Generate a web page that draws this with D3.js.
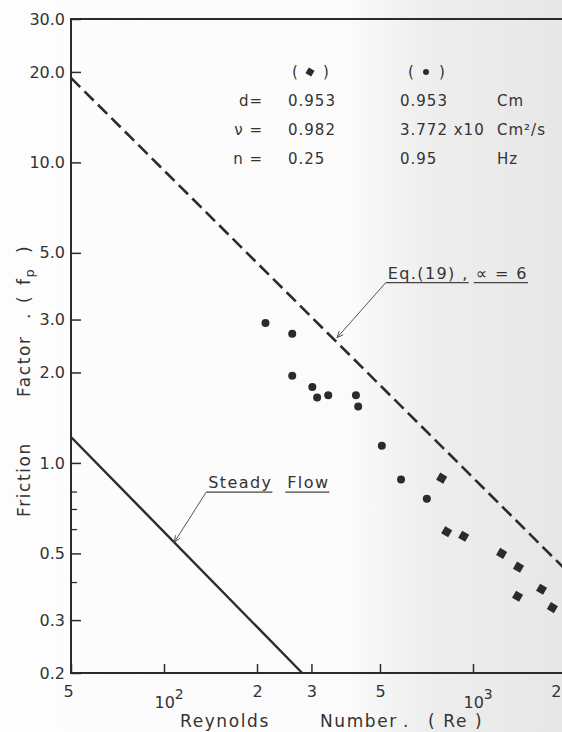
<!DOCTYPE html>
<html>
<head>
<meta charset="utf-8">
<script src="https://cdn.jsdelivr.net/npm/d3@7"></script>
<style>
  body { margin: 0; background: #fff; }
  svg { display: block; }
  text { font-family: "DejaVu Sans", sans-serif; fill: #333; }
</style>
</head>
<body>
<svg id="chart" width="562" height="732"></svg>
<script>
// Reynolds number vs friction factor
const xTicks = [50, 100, 200, 300, 500, 1000, 2000];
const xTickLabels = ["5", "10^2", "2", "3", "5", "10^3", "2"];
const yTicks = [0.2, 0.3, 0.5, 1, 2, 3, 5, 10, 20, 30];
const yTickLabels = ["0.2", "0.3", "0.5", "1.0", "2.0", "3.0", "5.0", "10.0", "20.0", "30.0"];
const yMinorTicks = [0.4, 0.6, 0.7, 0.8];

// series (●) : Re, fp
const circlePts = [
  [213, 2.92], [260, 2.69], [260, 1.95], [302, 1.79], [313, 1.65],
  [340, 1.68], [418, 1.68], [425, 1.54], [507, 1.14], [585, 0.88], [709, 0.76]
];
// series (◆)
const diamondPts = [
  [792, 0.89], [822, 0.59], [933, 0.57], [1238, 0.50], [1404, 0.45],
  [1667, 0.38], [1394, 0.36], [1807, 0.33]
];
// Eq.(19), alpha = 6 (dashed) and steady flow (solid)
const eq19Line = [[50, 19.1], [2000, 0.44]];
const steadyLine = [[50, 1.22], [280, 0.2]];

const legendRows = [
  ["d=", "0.953", "0.953", "Cm"],
  ["ν =", "0.982", "3.772 x10", "Cm²/s"],
  ["n =", "0.25", "0.95", "Hz"]
];

const width = 562, height = 732;
const margin = { top: 19, right: -4, bottom: 59, left: 71 };

const svg = d3.select("#chart");

const x = d3.scaleLog()
  .domain([50, 2000])
  .range([margin.left, width - margin.right]);

const y = d3.scaleLog()
  .domain([0.2, 30])
  .range([height - margin.bottom, margin.top]);

// scanned paper tint
const defs = svg.append("defs");
const grad = defs.append("linearGradient").attr("id", "paper");
grad.append("stop").attr("offset", "0%").attr("stop-color", "#fdfdfd");
grad.append("stop").attr("offset", "62%").attr("stop-color", "#fbfbfb");
grad.append("stop").attr("offset", "76%").attr("stop-color", "#eeeeee");
grad.append("stop").attr("offset", "100%").attr("stop-color", "#e7e7e7");
svg.append("rect").attr("width", width).attr("height", height).attr("fill", "url(#paper)");

const ink = "#2b2b2b";

// frame
svg.append("rect")
  .attr("x", x(50)).attr("y", y(30))
  .attr("width", x(2000) - x(50)).attr("height", y(0.2) - y(30))
  .attr("fill", "none").attr("stroke", ink).attr("stroke-width", 2);

// bottom axis
const xAxis = svg.append("g")
  .attr("transform", `translate(0,${y(0.2)})`)
  .call(d3.axisBottom(x).tickValues(xTicks).tickSizeInner(-9).tickSizeOuter(0).tickFormat(() => ""));
xAxis.select(".domain").remove();
xAxis.selectAll("line").attr("stroke", ink).attr("stroke-width", 1.5);
xAxis.selectAll(".tick text").remove();
xAxis.selectAll(".tick").each(function(d, i) {
  const lab = xTickLabels[i];
  const t = d3.select(this).append("text")
    .attr("text-anchor", lab.includes("^") ? "start" : "middle")
    .style("font-size", "16px");
  if (lab.includes("^")) {
    const [base, pw] = lab.split("^");
    t.attr("x", -10).attr("y", 35);
    t.append("tspan").text(base);
    t.append("tspan").attr("dy", -9).style("font-size", "14px").text(pw);
  } else if (i === xTicks.length - 1) {
    t.attr("text-anchor", "end").attr("x", -5).attr("y", 24).text(lab);
  } else {
    t.attr("x", i === 0 ? -3 : 0).attr("y", 24).text(lab);
  }
});

// left axis
const yAxis = svg.append("g")
  .attr("transform", `translate(${x(50)},0)`)
  .call(d3.axisLeft(y).tickValues(yTicks).tickSizeInner(-10).tickSizeOuter(0)
    .tickFormat((d, i) => yTickLabels[i]));
yAxis.select(".domain").remove();
yAxis.selectAll("line").attr("stroke", ink).attr("stroke-width", 1.5);
yAxis.selectAll("text")
  .attr("x", -6)
  .style("font-size", "16px")
  .style("font-family", "DejaVu Sans, sans-serif")
  .attr("fill", "#333");

svg.append("g")
  .selectAll("line")
  .data(yMinorTicks)
  .join("line")
  .attr("x1", x(50)).attr("x2", x(50) + 6)
  .attr("y1", d => y(d)).attr("y2", d => y(d))
  .attr("stroke", ink).attr("stroke-width", 1.3);

// lines
const line = d3.line().x(d => x(d[0])).y(d => y(d[1]));

const plot = svg.append("g");

plot.append("path")
  .datum(eq19Line)
  .attr("d", line)
  .attr("fill", "none")
  .attr("stroke", ink)
  .attr("stroke-width", 2.6)
  .attr("stroke-dasharray", "13,6");

plot.append("path")
  .datum(steadyLine)
  .attr("d", line)
  .attr("fill", "none")
  .attr("stroke", ink)
  .attr("stroke-width", 2.4);

// points
plot.selectAll(".circ")
  .data(circlePts)
  .join("circle")
  .attr("class", "circ")
  .attr("cx", d => x(d[0]))
  .attr("cy", d => y(d[1]))
  .attr("r", 4)
  .attr("fill", ink);

const diamond = d3.symbol().type(d3.symbolSquare).size(66);
plot.selectAll(".diam")
  .data(diamondPts)
  .join("path")
  .attr("class", "diam")
  .attr("transform", d => `translate(${x(d[0])},${y(d[1])}) rotate(30)`)
  .attr("d", diamond)
  .attr("fill", ink);

// annotations with leaders; words are placed and underlined one by one
const notes = [
  { words: [["Eq.(19) ,", 0], ["∝ = 6", 88]], at: [363, 2.61], label: [522, 3.98] },
  { words: [["Steady", 0], ["Flow", 79]], at: [108, 0.545], label: [137, 0.80] }
];
notes.forEach(n => {
  const lx = x(n.label[0]), ly = y(n.label[1]);
  const ax = x(n.at[0]), ay = y(n.at[1]);
  svg.append("line")
    .attr("x1", lx).attr("y1", ly).attr("x2", ax).attr("y2", ay)
    .attr("stroke", "#555").attr("stroke-width", 1);
  const ang = Math.atan2(ay - ly, ax - lx);
  const hl = 7;
  svg.append("path")
    .attr("d", `M${ax - hl * Math.cos(ang - 0.4)},${ay - hl * Math.sin(ang - 0.4)}L${ax},${ay}L${ax - hl * Math.cos(ang + 0.4)},${ay - hl * Math.sin(ang + 0.4)}`)
    .attr("fill", "none").attr("stroke", "#555").attr("stroke-width", 1);
  n.words.forEach(([w, off]) => {
    const t = svg.append("text")
      .attr("x", lx + 2 + off).attr("y", ly - 4)
      .style("font-size", "16px")
      .style("letter-spacing", "1.4px")
      .style("white-space", "pre")
      .text(w);
    const len = t.node().getComputedTextLength();
    svg.append("line")
      .attr("x1", lx + off).attr("x2", lx + 2 + off + len)
      .attr("y1", ly).attr("y2", ly)
      .attr("stroke", "#444").attr("stroke-width", 1.3);
  });
});

// legend table
const colX = [263, 288, 400, 497];
const rowY = [106, 135, 164];
legendRows.forEach((row, r) => {
  row.forEach((txt, c) => {
    svg.append("text")
      .attr("x", colX[c]).attr("y", rowY[r])
      .attr("text-anchor", c === 0 ? "end" : "start")
      .style("font-size", "15px")
      .style("letter-spacing", "1px")
      .text(txt);
  });
});
// legend symbols row
[[310, "diamond"], [426, "circle"]].forEach(([cx, kind]) => {
  svg.append("text").attr("x", cx - 18).attr("y", 77).style("font-size", "15px").text("(");
  svg.append("text").attr("x", cx + 13).attr("y", 77).style("font-size", "15px").text(")");
  if (kind === "circle") {
    svg.append("circle").attr("cx", cx).attr("cy", 72).attr("r", 3).attr("fill", ink);
  } else {
    svg.append("path").attr("transform", `translate(${cx},72) rotate(30)`)
      .attr("d", d3.symbol().type(d3.symbolSquare).size(44)).attr("fill", ink);
  }
});

// axis titles
const xTitle = svg.append("text")
  .attr("y", 727)
  .style("font-size", "17px")
  .style("letter-spacing", "1.6px")
  .style("white-space", "pre");
xTitle.append("tspan").attr("x", 180).text("Reynolds");
xTitle.append("tspan").attr("x", 320).text("Number");
xTitle.append("tspan").attr("x", 403).text(".");
xTitle.append("tspan").attr("x", 428).text("( Re )");

const yTitle = svg.append("text")
  .attr("transform", "translate(30,517) rotate(-90)")
  .style("font-size", "17px")
  .style("letter-spacing", "1.6px")
  .style("white-space", "pre");
yTitle.append("tspan").attr("x", 0).text("Friction");
yTitle.append("tspan").attr("x", 120).text("Factor");
yTitle.append("tspan").attr("x", 198).text(".");
yTitle.append("tspan").attr("x", 214).text("(");
yTitle.append("tspan").attr("x", 232).text("f");
yTitle.append("tspan").attr("dy", 4).style("font-size", "13px").text("p");
yTitle.append("tspan").attr("x", 264).attr("dy", -4).text(")");
</script>
</body>
</html>
